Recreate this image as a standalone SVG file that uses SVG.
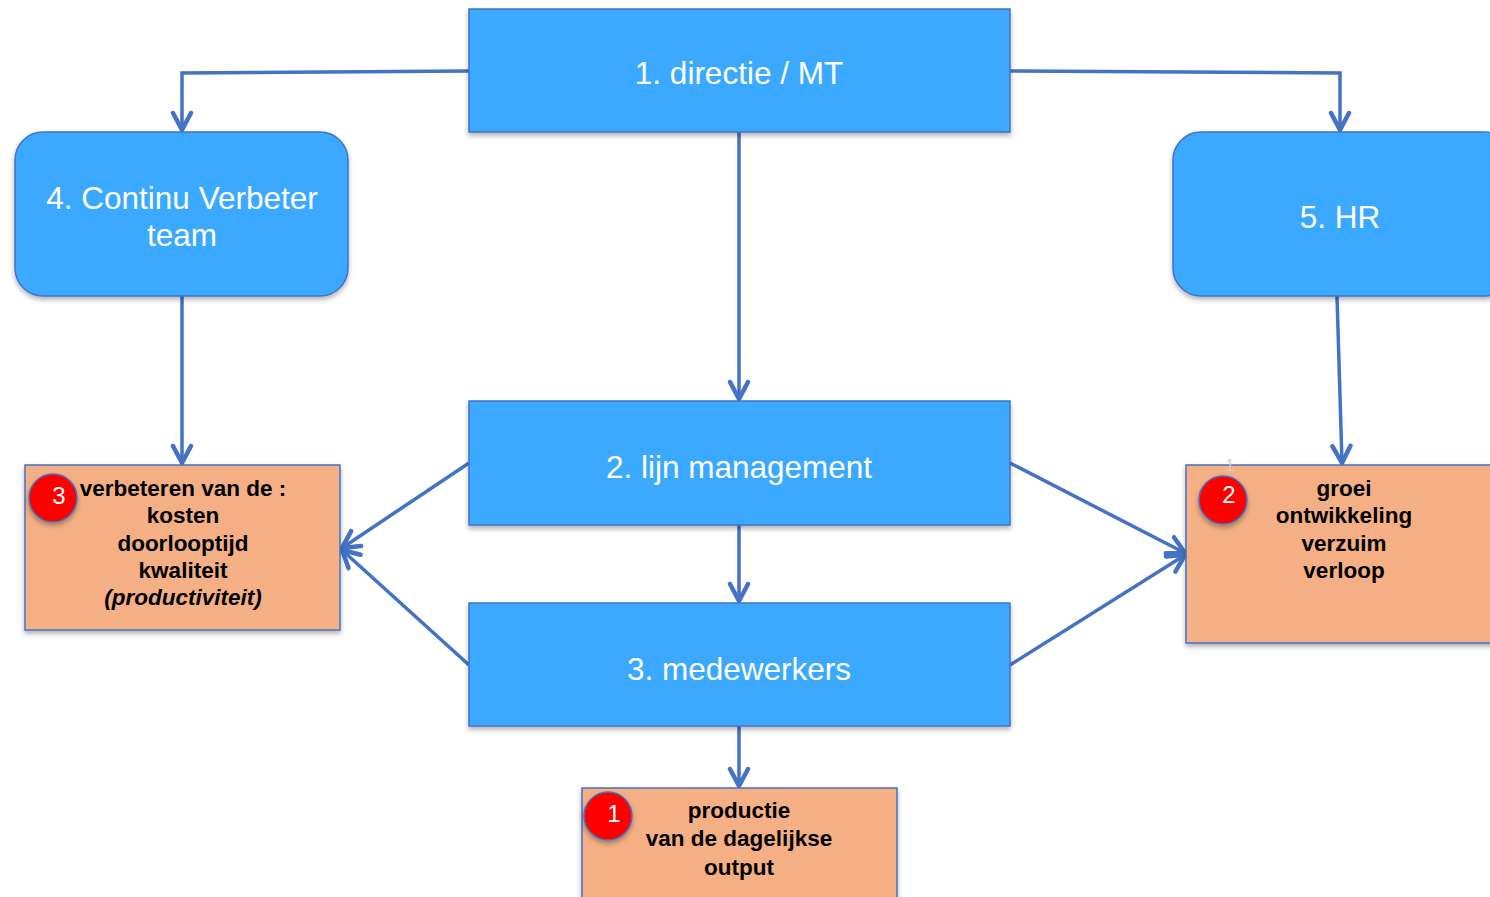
<svg xmlns="http://www.w3.org/2000/svg" width="1490" height="897" viewBox="0 0 1490 897">
<style>
.blue{fill:#3AA9FF;stroke:#4472C4;stroke-width:1.5;filter:url(#sh)}
.org{fill:#F4B084;stroke:#4472C4;stroke-width:1.5;filter:url(#sh)}
.bt{font-family:"Liberation Sans",Arial,sans-serif;font-size:31.5px;fill:#fff;text-anchor:middle}
.ot{font-family:"Liberation Sans",Arial,sans-serif;font-size:22.5px;font-weight:bold;fill:#000;text-anchor:middle}
.badge{fill:#FF0000;stroke:#4472C4;stroke-width:1.5;filter:url(#sh)}
.bn{font-family:"Liberation Sans",Arial,sans-serif;font-size:24px;fill:#fff;text-anchor:middle}
.c{fill:none;stroke:#4472C4;stroke-width:3.5;marker-end:url(#ar)}
</style>
<defs>
<filter id="sh" x="-10%" y="-10%" width="120%" height="130%">
<feDropShadow dx="0" dy="3" stdDeviation="2.5" flood-color="#000" flood-opacity="0.3"/>
</filter>
<marker id="ar" viewBox="0 0 24 24" refX="21" refY="12" markerWidth="24" markerHeight="24" markerUnits="userSpaceOnUse" orient="auto">
<path d="M4,3 L21,12 L4,21" fill="none" stroke="#4472C4" stroke-width="4.5" stroke-linecap="round" stroke-linejoin="round"/>
</marker>
</defs>
<rect width="1490" height="897" fill="#fff"/>
<g id="connectors">
<path class="c" d="M469,71 L182,73 L182,130"/>
<path class="c" d="M1010,71 L1340,73 L1340,130"/>
<path class="c" d="M739,132 L739,399"/>
<path class="c" d="M182,296 L182,463"/>
<path class="c" d="M1337,296 L1342,463"/>
<path class="c" d="M469,463 L342,548"/>
<path class="c" d="M469,665 L342,550"/>
<path class="c" d="M1010,463 L1185,553"/>
<path class="c" d="M1010,665 L1185,555"/>
<path class="c" d="M739,525 L739,601"/>
<path class="c" d="M739,726 L739,786"/>
</g>
<g id="n1"><rect class="blue" x="469" y="9" width="541" height="123"/><text class="bt" x="739" y="84">1. directie / MT</text></g>
<g id="n4"><rect class="blue" x="15" y="132" width="333" height="164" rx="28"/><text class="bt" x="182" y="209">4. Continu Verbeter</text><text class="bt" x="182" y="246">team</text></g>
<g id="n5"><rect class="blue" x="1173" y="132" width="340" height="164" rx="28"/><text class="bt" x="1340" y="228">5. HR</text></g>
<g id="n2"><rect class="blue" x="469" y="401" width="541" height="124"/><text class="bt" x="739" y="478">2. lijn management</text></g>
<g id="n3"><rect class="blue" x="469" y="603" width="541" height="123"/><text class="bt" x="739" y="680">3. medewerkers</text></g>
<g id="o3"><rect class="org" x="25" y="465" width="315" height="165"/>
<text class="ot" x="183" y="496">verbeteren van de :</text>
<text class="ot" x="183" y="523">kosten</text>
<text class="ot" x="183" y="551">doorlooptijd</text>
<text class="ot" x="183" y="578">kwaliteit</text>
<text class="ot" x="183" y="605" font-style="italic">(productiviteit)</text>
<circle class="badge" cx="53" cy="498" r="24"/><text class="bn" x="59" y="504">3</text></g>
<g id="o2"><rect class="org" x="1186" y="465" width="320" height="178"/>
<text class="ot" x="1344" y="496">groei</text>
<text class="ot" x="1344" y="523">ontwikkeling</text>
<text class="ot" x="1344" y="551">verzuim</text>
<text class="ot" x="1344" y="578">verloop</text>
<text x="1230" y="471" font-family="Liberation Sans,Arial,sans-serif" font-size="16" fill="#d0d0d0" text-anchor="middle">1</text>
<circle class="badge" cx="1223" cy="500" r="24"/><text class="bn" x="1229" y="503">2</text></g>
<g id="o1"><rect class="org" x="582" y="788" width="315" height="130"/>
<text class="ot" x="739" y="818">productie</text>
<text class="ot" x="739" y="846">van de dagelijkse</text>
<text class="ot" x="739" y="875">output</text>
<circle class="badge" cx="608" cy="816" r="24"/><text class="bn" x="614" y="822">1</text></g>
</svg>
